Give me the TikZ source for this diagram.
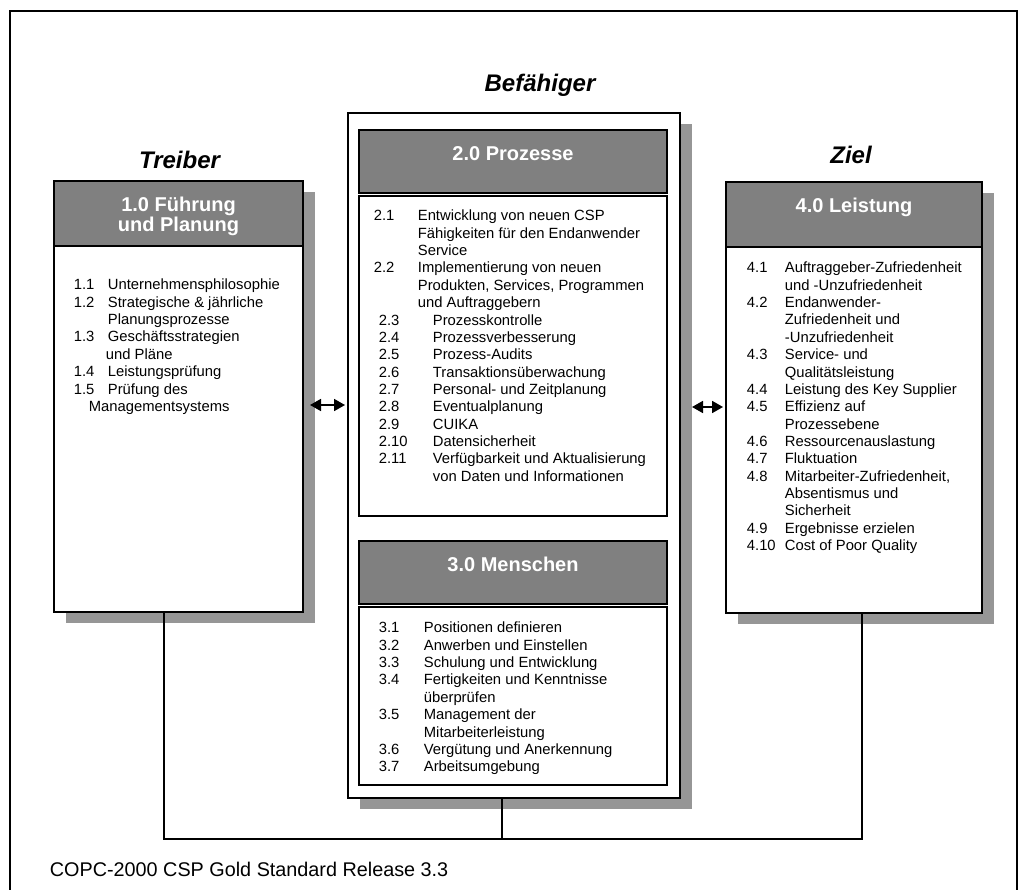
\documentclass[tikz,border=0pt]{standalone}
\usepackage{fontspec}
\setmainfont{Liberation Sans}
\usetikzlibrary{arrows.meta,calc,positioning,backgrounds}

\definecolor{hdrgray}{RGB}{128,128,128}
\definecolor{shdgray}{RGB}{150,150,150}
\newcommand{\itm}[3][34pt]{\makebox[#1][l]{#2}#3}

\begin{document}
\begin{tikzpicture}[x=1pt, y=-1pt, line width=1.8pt, >={Triangle[length=11pt,width=12pt]},
  hdr/.style={draw, fill=hdrgray, inner sep=0pt, outer sep=0pt},
  bdy/.style={draw, fill=white, inner sep=0pt, outer sep=0pt},
  htext/.style={text=white, font=\bfseries\fontsize{20}{19.5}\selectfont, align=center, inner sep=0pt, anchor=north},
  ttext/.style={font=\bfseries\itshape\fontsize{24}{28}\selectfont, inner sep=0pt, anchor=base},
  itemlist/.style={font=\fontsize{14.8}{17.35}\selectfont, align=left, anchor=north west, inner sep=0pt},
  boxshadow/.style={fill=shdgray}]
\newcommand{\hdbox}[1][]{\node [#1, hdr]}
\newcommand{\bdbox}[1][]{\node [#1, bdy]}
\useasboundingbox (0,0) rectangle (1019,890);

% frame
\draw (10,892) |- (1017,11) -- (1017,892);

% enablers
\bdbox [anchor=north west, minimum width=332pt, minimum height=685pt] (B) at (348,113) {};
\hdbox [below right=17pt and 11pt of B.north west, minimum width=308pt, minimum height=63pt] (P0) {};
\bdbox [below=3pt of P0, minimum width=308pt, minimum height=320pt] (P1) {};
\hdbox [below=25pt of P1, minimum width=308pt, minimum height=63pt] (M0) {};
\bdbox [below=3pt of M0, minimum width=308pt, minimum height=178pt] (M1) {};

% driver and goal
\hdbox [below left=68pt and 45pt of B.north west, minimum width=249pt, minimum height=65pt] (F0) {};
\bdbox [below=0pt of F0, minimum width=249pt, minimum height=366pt] (F1) {};
\hdbox [below right=69pt and 46pt of B.north east, minimum width=256pt, minimum height=65pt] (L0) {};
\bdbox [below=0pt of L0, minimum width=256pt, minimum height=366pt] (L1) {};

\begin{scope}[on background layer]
\fill [boxshadow] ($(F0.north west)+(12,11)$) rectangle ($(F1.south east)+(12,11)$);
\fill [boxshadow] ($(B.north west)+(12,11)$) rectangle ($(B.south east)+(12,11)$);
\fill [boxshadow] ($(L0.north west)+(12,11)$) rectangle ($(L1.south east)+(12,11)$);
\end{scope}

% titles
\node [ttext] (Tr) at ($(F0.north)+(1,-12)$) {Treiber};
\node [ttext] (Be) at ($(B.north)+(26,-21)$) {Befähiger};
\node [ttext] (Zi) at ($(L0.north)+(-3,-18)$) {Ziel};

\node [htext] (F0t) at ($(F0.north)+(0,14)$) {\rule{0pt}{16pt}1.0 Führung\\und Planung};
\node [htext] (P0t) at ($(P0.north)+(0,14)$) {\rule{0pt}{16pt}2.0 Prozesse};
\node [htext] (M0t) at ($(M0.north)+(0,14)$) {\rule{0pt}{16pt}3.0 Menschen};
\node [htext] (L0t) at ($(L0.north)+(0,14)$) {\rule{0pt}{16pt}4.0 Leistung};

\node [itemlist] (F1t) at ($(F1.north west)+(19,29)$) {\rule{0pt}{14pt}\itm{1.1}{Unternehmensphilosophie}\\
  \itm{1.2}{Strategische \& jährliche}\\
  \hspace*{34pt}Planungsprozesse\\
  \itm{1.3}{Geschäftsstrategien}\\
  \hspace*{32pt}und Pläne\\
  \itm{1.4}{Leistungsprüfung}\\
  \itm{1.5}{Prüfung des}\\
  \hspace*{15pt}Managementsystems};

\node [itemlist] (P1t) at ($(P1.north west)+(14,10)$) {\rule{0pt}{14pt}\itm[44pt]{2.1}{Entwicklung von neuen CSP}\\
  \hspace*{44pt}Fähigkeiten für den Endanwender\\
  \hspace*{44pt}Service\\
  \itm[44pt]{2.2}{Implementierung von neuen}\\
  \hspace*{44pt}Produkten, Services, Programmen\\
  \hspace*{44pt}und Auftraggebern\\
  \hspace*{5pt}\itm[54pt]{2.3}{Prozesskontrolle}\\
  \hspace*{5pt}\itm[54pt]{2.4}{Prozessverbesserung}\\
  \hspace*{5pt}\itm[54pt]{2.5}{Prozess-Audits}\\
  \hspace*{5pt}\itm[54pt]{2.6}{Transaktionsüberwachung}\\
  \hspace*{5pt}\itm[54pt]{2.7}{Personal- und Zeitplanung}\\
  \hspace*{5pt}\itm[54pt]{2.8}{Eventualplanung}\\
  \hspace*{5pt}\itm[54pt]{2.9}{CUIKA}\\
  \hspace*{5pt}\itm[54pt]{2.10}{Datensicherheit}\\
  \hspace*{5pt}\itm[54pt]{2.11}{Verfügbarkeit und Aktualisierung}\\
  \hspace*{59pt}von Daten und Informationen};

\node [itemlist] (M1t) at ($(M1.north west)+(19,11)$) {\rule{0pt}{14pt}\itm[45pt]{3.1}{Positionen definieren}\\
  \itm[45pt]{3.2}{Anwerben und Einstellen}\\
  \itm[45pt]{3.3}{Schulung und Entwicklung}\\
  \itm[45pt]{3.4}{Fertigkeiten und Kenntnisse}\\
  \hspace*{45pt}überprüfen\\
  \itm[45pt]{3.5}{Management der}\\
  \hspace*{45pt}Mitarbeiterleistung\\
  \itm[45pt]{3.6}{Vergütung und Anerkennung}\\
  \itm[45pt]{3.7}{Arbeitsumgebung}};

\node [itemlist] (L1t) at ($(L1.north west)+(20,11)$) {\rule{0pt}{14pt}\itm[38pt]{4.1}{Auftraggeber-Zufriedenheit}\\
  \hspace*{38pt}und -Unzufriedenheit\\
  \itm[38pt]{4.2}{Endanwender-}\\
  \hspace*{38pt}Zufriedenheit und\\
  \hspace*{38pt}-Unzufriedenheit\\
  \itm[38pt]{4.3}{Service- und}\\
  \hspace*{38pt}Qualitätsleistung\\
  \itm[38pt]{4.4}{Leistung des Key Supplier}\\
  \itm[38pt]{4.5}{Effizienz auf}\\
  \hspace*{38pt}Prozessebene\\
  \itm[38pt]{4.6}{Ressourcenauslastung}\\
  \itm[38pt]{4.7}{Fluktuation}\\
  \itm[38pt]{4.8}{Mitarbeiter-Zufriedenheit,}\\
  \hspace*{38pt}Absentismus und\\
  \hspace*{38pt}Sicherheit\\
  \itm[38pt]{4.9}{Ergebnisse erzielen}\\
  \itm[38pt]{4.10}{Cost of Poor Quality}};

% links
\coordinate (la) at ($(F1.east)+(7,-24)$);
\draw [<->, shorten >=3pt] (la) -- (la -| B.west);
\coordinate (ra) at ($(L1.west)+(0,-23)$);
\coordinate (rb) at ($(B.east |- ra)+(12,0)$);
\draw [<->, shorten >=3pt] (rb) -- (ra);

\coordinate (bus) at ($(B.south)+(-12,41)$);
\draw ($(F1.south)+(-14.5,0)$) |- (bus) -| ($(L1.south)+(8,0)$);
\draw (B.south -| bus) -- (bus);

\node [anchor=base west, inner sep=0pt, font=\fontsize{19.8}{24}\selectfont] (cap) at (49,876) {COPC-2000 CSP Gold Standard Release 3.3};
\end{tikzpicture}
\end{document}
